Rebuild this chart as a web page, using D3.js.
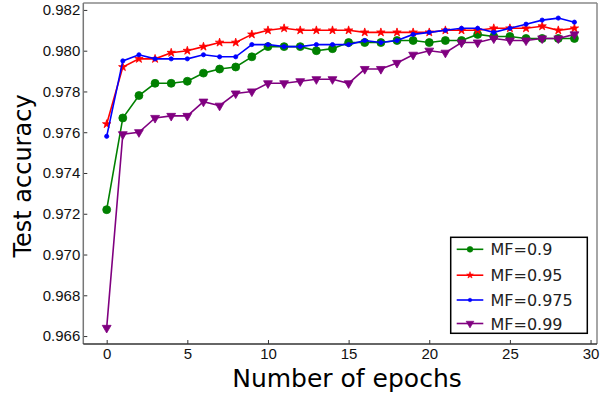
<!DOCTYPE html>
<html><head><meta charset="utf-8">
<script src="https://cdn.jsdelivr.net/npm/d3@7"></script>
<style>body{margin:0;background:#fff;} svg{display:block;font-family:"DejaVu Sans",sans-serif;}</style>
</head><body><svg id="c" width="600" height="396"></svg>
<script>
const epochs = d3.range(0, 30);
const mf09   = [0.9722,0.9767,0.9778,0.9784,0.9784,0.9785,0.9789,0.9791,0.9792,0.9797,0.9802,0.9802,0.9802,0.9800,0.9801,0.9804,0.9804,0.9804,0.9805,0.9805,0.9804,0.9805,0.9805,0.9808,0.9807,0.9807,0.9806,0.9806,0.9806,0.9806];
const mf095  = [0.9764,0.9792,0.9796,0.9796,0.9799,0.9800,0.9802,0.9804,0.9804,0.9808,0.9810,0.9811,0.9810,0.9810,0.9810,0.9810,0.9809,0.9809,0.9809,0.9809,0.9809,0.9810,0.9810,0.9810,0.9811,0.9811,0.9811,0.9812,0.9810,0.9811];
const mf0975 = [0.9758,0.9795,0.9798,0.9796,0.9796,0.9796,0.9798,0.9797,0.9797,0.9803,0.9803,0.9802,0.9802,0.9803,0.9803,0.9803,0.9805,0.9804,0.9805,0.9808,0.9809,0.9810,0.9811,0.9811,0.9809,0.9811,0.9813,0.9815,0.9816,0.9814];
const mf099  = [0.9664,0.9759,0.9760,0.9767,0.9768,0.9768,0.9775,0.9773,0.9779,0.9780,0.9784,0.9784,0.9785,0.9786,0.9786,0.9784,0.9791,0.9791,0.9794,0.9798,0.9800,0.9799,0.9804,0.9804,0.9806,0.9805,0.9805,0.9806,0.9806,0.9808];
const seriesNames = ["MF=0.9","MF=0.95","MF=0.975","MF=0.99"];
const seriesColors = ["#008000","#ff0000","#0000ff","#800080"];
const xTicks = [0,5,10,15,20,25,30];
const yTicks = [0.966,0.968,0.970,0.972,0.974,0.976,0.978,0.980,0.982];

const series = [
  {name:seriesNames[0], color:seriesColors[0], values:mf09,   sym:d3.symbolCircle, size:50, rot:0, lsize:26},
  {name:seriesNames[1], color:seriesColors[1], values:mf095,  sym:d3.symbolStar,   size:22, rot:0, lsize:14},
  {name:seriesNames[2], color:seriesColors[2], values:mf0975, sym:d3.symbolCircle, size:14, rot:0, lsize:10},
  {name:seriesNames[3], color:seriesColors[3], values:mf099,  sym:d3.symbolTriangle, size:34, rot:180, lsize:26}
];

const L=83.3, R=597, T=3, B=344;
const svg = d3.select("#c");
const x = d3.scaleLinear().domain([-1.45, 30.4]).range([L, R]);
const y = d3.scaleLinear().domain([0.96561, 0.98234]).range([B, T]);

// x axis
const xa = svg.append("g").attr("transform",`translate(0,${B})`)
  .call(d3.axisBottom(x).tickValues(xTicks).tickSizeInner(-4).tickSizeOuter(0).tickPadding(4));
xa.select(".domain").remove();
xa.selectAll("line").attr("stroke","#333");
xa.selectAll("text").attr("font-size",15).attr("fill","#111");

// y axis
const ya = svg.append("g").attr("transform",`translate(${L},0)`)
  .call(d3.axisLeft(y).tickValues(yTicks).tickFormat(d3.format(".3f")).tickSizeInner(-4).tickSizeOuter(0).tickPadding(3));
ya.select(".domain").remove();
ya.selectAll("line").attr("stroke","#333");
ya.selectAll("text").attr("font-size",15).attr("fill","#111");

// frame
svg.append("line").attr("x1",L).attr("x2",R).attr("y1",T).attr("y2",T).attr("stroke","#888").attr("stroke-width",1.5);
svg.append("line").attr("x1",R).attr("x2",R).attr("y1",T).attr("y2",B).attr("stroke","#888").attr("stroke-width",1.5);
svg.append("line").attr("x1",L).attr("x2",L).attr("y1",T).attr("y2",B).attr("stroke","#777").attr("stroke-width",1.5);
svg.append("line").attr("x1",L).attr("x2",R).attr("y1",B).attr("y2",B).attr("stroke","#333").attr("stroke-width",1.5);

const line = d3.line().x((d,i)=>x(epochs[i])).y(d=>y(d));
series.forEach(s=>{
  svg.append("path").datum(s.values).attr("d",line).attr("fill","none")
    .attr("stroke",s.color).attr("stroke-width",1.6);
  svg.append("g").selectAll("path").data(s.values).join("path")
    .attr("d",d3.symbol().type(s.sym).size(s.size))
    .attr("transform",(d,i)=>`translate(${x(epochs[i])},${y(d)}) rotate(${s.rot})`)
    .attr("fill",s.color).attr("stroke",s.color).attr("stroke-width",0.8);
});

// labels
svg.append("text").attr("x",347).attr("y",387).attr("text-anchor","middle")
  .attr("font-size",25).attr("fill","#000").text("Number of epochs");
svg.append("text").attr("transform","translate(31,176) rotate(-90)").attr("text-anchor","middle")
  .attr("font-size",24).attr("fill","#000").text("Test accuracy");

// legend
const lg = svg.append("g");
lg.append("rect").attr("x",450.7).attr("y",237.3).attr("width",136.6).attr("height",96)
  .attr("fill","#fff").attr("stroke","#000").attr("stroke-width",1.5);
const rowsY = [249.3, 275.2, 300, 323.5];
series.forEach((s,i)=>{
  const ry = rowsY[i];
  lg.append("line").attr("x1",456.7).attr("x2",483.3).attr("y1",ry).attr("y2",ry).attr("stroke",s.color).attr("stroke-width",1.6);
  lg.append("path").attr("d",d3.symbol().type(s.sym).size(s.lsize)).attr("transform",`translate(470,${ry}) rotate(${s.rot})`)
    .attr("fill",s.color).attr("stroke",s.color).attr("stroke-width",0.6);
  lg.append("text").attr("x",490.5).attr("y",ry+6).attr("font-size",16).attr("fill","#222").text(s.name);
});
</script></body></html>
